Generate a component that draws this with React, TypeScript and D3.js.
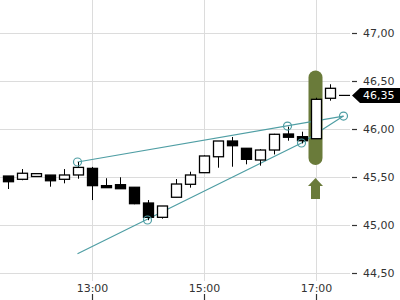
import React from "react";
import * as d3 from "d3";

const W = 400;
const H = 300;

// 15-minute candles, times as "HH:MM"
const times = ["11:30","11:45","12:00","12:15","12:30","12:45","13:00","13:15","13:30","13:45","14:00","14:15","14:30","14:45","15:00","15:15","15:30","15:45","16:00","16:15","16:30","16:45","17:00","17:15","17:30"];
const opens = [45.51,45.476,45.505,45.52,45.476,45.521,45.59,45.41,45.42,45.393,45.229,45.08,45.289,45.424,45.545,45.711,45.875,45.799,45.677,45.781,45.948,45.92,45.899,46.32,46.35];
const highs = [45.51,45.583,45.54,45.52,45.583,45.656,45.605,45.487,45.497,45.393,45.26,45.198,45.479,45.555,45.725,45.875,45.917,45.80,45.79,45.95,46.024,45.972,46.326,46.466,46.35];
const lows = [45.375,45.466,45.50,45.399,45.434,45.482,45.26,45.389,45.378,45.216,45.05,45.066,45.289,45.389,45.545,45.597,45.607,45.632,45.618,45.735,45.878,45.85,45.899,46.295,46.35];
const closes = [45.451,45.539,45.535,45.461,45.521,45.60,45.41,45.389,45.378,45.222,45.08,45.198,45.427,45.521,45.719,45.875,45.826,45.684,45.781,45.945,45.914,45.878,46.309,46.424,46.35];

const yTicks = [44.5, 45.0, 45.5, 46.0, 46.5, 47.0];
const xTicks = ["13:00", "15:00", "17:00"];
const lastPrice = 46.35;

// trend lines (time, price)
const upperLine = [["12:45", 45.656], ["17:30", 46.135]];
const lowerLine = [["12:45", 44.70], ["16:45", 45.854], ["17:30", 46.135]];
const anchorTimes = ["12:45", "14:00", "16:30", "16:45", "17:30"];
const anchorPrices = [45.656, 45.052, 46.03, 45.854, 46.135];

// highlight annotation on the 17:00 candle
const highlightTime = "17:00";
const highlightTop = 46.61;
const highlightBottom = 45.625;
const arrowTop = 45.49;
const arrowBottom = 45.27;

const toMin = (t: string) => {
  const [h, m] = t.split(":").map(Number);
  return h * 60 + m;
};

const locale = d3.formatLocale({ decimal: ",", thousands: ".", grouping: [3], currency: ["", "€"] });
const fmt = locale.format(".2f");

export default function App() {
  const x = d3.scaleLinear().domain([toMin("11:30"), toMin("17:30")]).range([7.5, 343.5]);
  const y = d3.scaleLinear().domain([44.5, 47]).range([273, 33]);
  const bw = 10;
  const teal = "#4f9ea4";
  const olive = "#6a7b3a";
  const line = d3.line<any>().x((d) => x(toMin(d[0]))).y((d) => y(d[1]));

  const hx = x(toMin(highlightTime));
  const aTop = y(arrowTop);
  const aBot = y(arrowBottom);
  const headH = 8;
  const arrowPath = `M${hx},${aTop} L${hx + 7.5},${aTop + headH} L${hx + 4.5},${aTop + headH} L${hx + 4.5},${aBot} L${hx - 4.5},${aBot} L${hx - 4.5},${aTop + headH} L${hx - 7.5},${aTop + headH} Z`;

  const ly = y(lastPrice);

  return (
    <svg width={W} height={H} style={{ position: "absolute", left: 0, top: 0, background: "#fff" }} fontFamily="DejaVu Sans" fontSize={11}>
      {/* grid */}
      {yTicks.map((v) => (
        <line key={"gy" + v} x1={0} x2={350} y1={Math.round(y(v)) + 0.5} y2={Math.round(y(v)) + 0.5} stroke="#dcdcdc" strokeWidth={1} />
      ))}
      {xTicks.map((t) => (
        <line key={"gx" + t} x1={Math.round(x(toMin(t))) + 0.5} x2={Math.round(x(toMin(t))) + 0.5} y1={0} y2={281} stroke="#dcdcdc" strokeWidth={1} />
      ))}
      {/* highlight pill */}
      <rect x={hx - 7} y={y(highlightTop)} width={14} height={y(highlightBottom) - y(highlightTop)} rx={7} ry={7} fill={olive} />
      <path d={arrowPath} fill={olive} />
      {/* trend lines */}
      <path d={line(upperLine as any) || ""} fill="none" stroke={teal} strokeWidth={1.2} />
      <path d={line(lowerLine as any) || ""} fill="none" stroke={teal} strokeWidth={1.2} />
      {/* candles */}
      {times.map((t, i) => {
        const cx = Math.round(x(toMin(t))) + 0.5;
        const o = opens[i], c = closes[i];
        const up = c >= o;
        const top = y(Math.max(o, c));
        const bot = y(Math.min(o, c));
        const hgt = Math.max(bot - top, 1);
        return (
          <g key={t}>
            <line x1={cx} x2={cx} y1={y(highs[i])} y2={y(lows[i])} stroke="#000" strokeWidth={1} />
            {hgt <= 1 ? (
              <line x1={cx - bw / 2 - 0.5} x2={cx + bw / 2 + 0.5} y1={top} y2={top} stroke="#000" strokeWidth={1.2} />
            ) : (
              <rect x={cx - bw / 2} y={top} width={bw} height={hgt} fill={up ? "#fff" : "#000"} stroke="#000" strokeWidth={1.3} />
            )}
          </g>
        );
      })}
      {/* anchor circles */}
      {anchorTimes.map((t, i) => (
        <circle key={"c" + i} cx={x(toMin(t))} cy={y(anchorPrices[i])} r={4} fill="none" stroke={teal} strokeWidth={1.2} />
      ))}
      {/* y axis */}
      {yTicks.map((v) => (
        <g key={"yt" + v}>
          <line x1={352} x2={357} y1={Math.round(y(v)) + 0.5} y2={Math.round(y(v)) + 0.5} stroke="#333" strokeWidth={1.2} />
          <text x={363} y={y(v)} dy="0.35em" fill="#333">{fmt(v)}</text>
        </g>
      ))}
      {/* last price label */}
      <path d={`M352,${ly} L360,${ly - 7.5} L400,${ly - 7.5} L400,${ly + 7.5} L360,${ly + 7.5} Z`} fill="#000" />
      <text x={363} y={ly} dy="0.35em" fill="#fff">{fmt(lastPrice)}</text>
      {/* x axis */}
      {xTicks.map((t) => {
        const xx = Math.round(x(toMin(t))) + 0.5;
        return (
          <g key={"xt" + t}>
            <line x1={xx} x2={xx} y1={294} y2={300} stroke="#333" strokeWidth={1.2} />
            <text x={xx} y={292} textAnchor="middle" fill="#333">{t}</text>
          </g>
        );
      })}
    </svg>
  );
}
